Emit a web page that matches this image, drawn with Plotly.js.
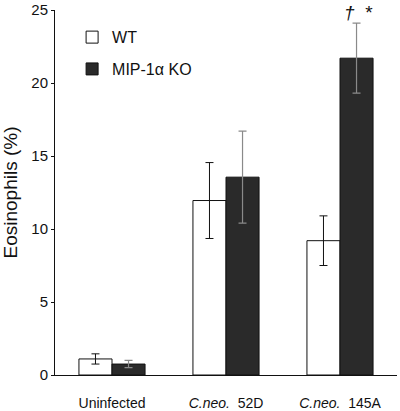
<!DOCTYPE html>
<html>
<head>
<meta charset="utf-8">
<script src="https://cdn.plot.ly/plotly-3.0.1.min.js"></script>
<style>html,body{margin:0;padding:0;background:#fff;}#chart{width:400px;height:411px;}</style>
</head>
<body>
<div id="chart"></div>
<script>
var categories = ["Uninfected", "<i>C.neo.</i>  52D", "<i>C.neo.</i>  145A"];
var wtValues = [1.1, 11.95, 9.2];
var wtErrors = [0.35, 2.6, 1.7];
var koValues = [0.75, 13.55, 21.7];
var koErrors = [0.25, 3.15, 2.4];
var yTicks = [0, 5, 10, 15, 20, 25];
var seriesNames = ["WT", "MIP-1\u03b1 KO"];

var font = "Liberation Sans, Arial, sans-serif";

var traces = [
  {
    type: "bar", x: categories, y: wtValues, name: seriesNames[0],
    legendgroup: "a",
    marker: {color: "#ffffff", line: {color: "#111", width: 1}},
    error_y: {type: "data", array: wtErrors, visible: true, color: "#111", thickness: 1, width: 4}
  },
  {
    type: "bar", x: categories, y: koValues, name: seriesNames[1],
    legendgroup: "b",
    marker: {color: "#2a2a2a", line: {color: "#111", width: 1}},
    error_y: {type: "data", array: koErrors, visible: true, color: "#8a8a8a", thickness: 1.2, width: 4}
  }
];

var layout = {
  width: 400, height: 411,
  margin: {l: 55, r: 3, t: 10, b: 36},
  paper_bgcolor: "#fff", plot_bgcolor: "#fff",
  barmode: "group", bargap: 0.42, bargroupgap: 0,
  font: {family: font, color: "#111", size: 14},
  showlegend: true,
  legend: {x: 0.05, y: 0.972, xanchor: "left", yanchor: "top",
           font: {family: font, size: 16, color: "#111"},
           tracegroupgap: 8, traceorder: "grouped", bgcolor: "rgba(0,0,0,0)"},
  xaxis: {
    type: "category", range: [-0.5, 2.5],
    showline: true, linecolor: "#111", linewidth: 1,
    ticks: "", showgrid: false, zeroline: false,
    tickfont: {family: font, size: 14, color: "#111"}, ticklabelstandoff: 15
  },
  yaxis: {
    range: [0, 25], tickvals: yTicks, ticktext: yTicks.map(String),
    showline: true, linecolor: "#111", linewidth: 1,
    ticks: "outside", ticklen: 3, tickcolor: "#111",
    showgrid: false, zeroline: false,
    tickfont: {family: font, size: 15, color: "#111"},
    title: {text: "Eosinophils (%)", font: {family: font, size: 19, color: "#111"}, standoff: 9}
  },
  annotations: [
    {x: 2.16, y: 1, xref: "x", yref: "paper", text: "<i>\u2020</i>\u00a0\u00a0*", showarrow: false,
     font: {family: font, size: 19, color: "#111"}, xanchor: "center", yanchor: "middle", yshift: -2}
  ]
};

Plotly.newPlot("chart", traces, layout, {displayModeBar: false, staticPlot: true});
</script>
</body>
</html>
